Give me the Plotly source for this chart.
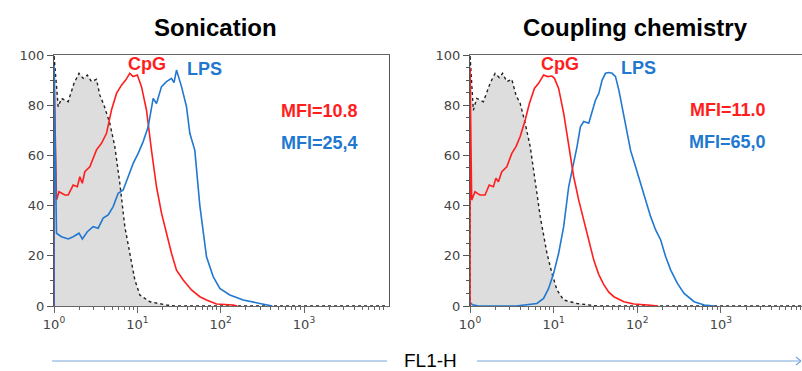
import plotly.graph_objects as go

# ---------------- data (x as log10 of FL1-H, y as % of max) ----------------
# Left panel: Sonication
son_ctrl_lg = [0, 0, 0.05, 0.09, 0.17, 0.24, 0.30, 0.35, 0.40, 0.45, 0.51, 0.55, 0.60, 0.67, 0.73,
               0.79, 0.85, 0.91, 0.97, 1.03, 1.15, 1.35, 1.45, 4.0]
son_ctrl_val = [0, 100, 79.4, 82.7, 81.4, 88.7, 92.7, 90.7, 92, 89.4, 90.3, 84, 80, 72.8, 63.5,
                48.9, 31.6, 21, 10.4, 4.4, 1.7, 0.4, 0, 0]

son_cpg_lg = [0, 0, 0.03, 0.06, 0.13, 0.17, 0.23, 0.28, 0.31, 0.34, 0.37, 0.43, 0.51, 0.57, 0.63,
              0.69, 0.75, 0.81, 0.86, 0.91, 0.95, 1.0, 1.05, 1.11, 1.17, 1.23, 1.29, 1.35, 1.41,
              1.47, 1.55, 1.65, 1.75, 1.83, 1.95, 2.15, 2.2]
son_cpg_val = [0, 94, 42.2, 45.5, 44.2, 44.2, 48.2, 47.5, 51.5, 48.9, 53.5, 55.5, 62.2, 64.8, 68.8,
               78.1, 84.7, 88, 90, 92.7, 91.4, 92, 87.4, 78, 62, 47.5, 37, 29, 21,
               14.3, 10.4, 6.4, 3.7, 2.4, 0.8, 0.4, 0]

son_lps_lg = [0, 0, 0.03, 0.09, 0.17, 0.23, 0.30, 0.34, 0.40, 0.47, 0.53, 0.59, 0.65, 0.71, 0.77,
              0.83, 0.89, 0.95, 1.01, 1.07, 1.13, 1.19, 1.23, 1.29, 1.35, 1.41, 1.44, 1.47, 1.53,
              1.59, 1.63, 1.69, 1.75, 1.79, 1.83, 1.91, 1.99, 2.11, 2.27, 2.47, 2.59, 2.62]
son_lps_val = [0, 96, 29, 27.6, 26.7, 27.6, 29, 26.7, 29.6, 31.6, 31, 35, 36.3, 39.6, 44.9,
               46.2, 51.5, 56.8, 60.8, 65.5, 71.4, 82.7, 80.7, 87.4, 89.4, 90.7, 89, 94, 87.4,
               79.4, 68.8, 62, 40, 29, 19.6, 11.7, 7, 4.4, 2.4, 1, 0.4, 0]

# Right panel: Coupling chemistry
cc_ctrl_lg = [0, 0, 0.04, 0.08, 0.16, 0.24, 0.30, 0.35, 0.39, 0.44, 0.50, 0.55, 0.60, 0.66, 0.72,
              0.78, 0.84, 0.92, 0.98, 1.04, 1.12, 1.28, 1.52, 4.0]
cc_ctrl_val = [0, 100, 78, 82.7, 81.4, 88.7, 92.7, 91, 92.7, 89.4, 90.3, 84, 80.7, 72.8, 63.5,
               50.2, 35.6, 21, 13, 6.4, 2.4, 1, 0, 0]

cc_cpg_lg = [0, 0, 0.02, 0.06, 0.12, 0.18, 0.23, 0.28, 0.31, 0.34, 0.38, 0.44, 0.50, 0.55, 0.60,
             0.66, 0.71, 0.77, 0.82, 0.88, 0.93, 0.98, 1.01, 1.06, 1.12, 1.18, 1.24, 1.30, 1.36,
             1.42, 1.48, 1.54, 1.60, 1.66, 1.72, 1.84, 1.96, 2.16, 2.25]
cc_cpg_val = [0, 95, 42.2, 45.5, 44.2, 44.2, 48.2, 47.5, 50.9, 49.5, 53.5, 55.5, 60.8, 63.5, 67.5,
              74.1, 80.7, 86.7, 88.7, 92, 91.4, 91.6, 90.7, 86.7, 76.8, 63.5, 51.5, 42.2, 34.3,
              26.3, 18.3, 12.5, 8.5, 5.5, 3.7, 1.7, 0.8, 0.3, 0]

cc_lps_lg = [0, 0.03, 0.1, 0.55, 0.80, 0.88, 0.94, 1.0, 1.06, 1.12, 1.18, 1.24, 1.28, 1.32, 1.36,
             1.42, 1.46, 1.50, 1.54, 1.58, 1.62, 1.66, 1.70, 1.74, 1.78, 1.82, 1.87, 1.92, 1.98,
             2.04, 2.10, 2.16, 2.22, 2.28, 2.34, 2.40, 2.48, 2.56, 2.68, 2.80, 2.92]
cc_lps_val = [1.5, 0.5, 0, 0, 1, 3, 7, 13, 21, 31.6, 47.5, 56.8, 63.5, 71.4, 73.5,
              72.8, 77.4, 82, 84.7, 90, 92.7, 93, 92.7, 91.4, 86, 79.4, 70, 62, 55.5,
              48.9, 42.2, 35.6, 30.3, 26.3, 19.6, 14.3, 9, 5, 1.7, 0.4, 0]

y_ticks = [0, 20, 40, 60, 80, 100]
x_decades = [0, 1, 2, 3]
x_tick_text = ["10<sup>0</sup>", "10<sup>1</sup>", "10<sup>2</sup>", "10<sup>3</sup>"]
titles = ["Sonication", "Coupling chemistry"]
mfi_cpg = ["MFI=10.8", "MFI=11.0"]
mfi_lps = ["MFI=25,4", "MFI=65,0"]

# ---------------- styling ----------------
RED = "#ff1e1e"
BLUE = "#2178d0"
FONT = "Liberation Sans, Arial, sans-serif"
TICKFONT = "DejaVu Sans, Verdana, sans-serif"
W, H = 802, 371


def tolin(lg):
    return [10 ** v for v in lg]


fig = go.Figure()


def add_panel(ctrl_lg, ctrl_val, cpg_lg, cpg_val, lps_lg, lps_val, xa, ya, red_on_top):
    fig.add_trace(go.Scatter(x=tolin(ctrl_lg), y=ctrl_val, mode="lines", fill="tozeroy",
                             fillcolor="#dddddd",
                             line=dict(color="#222222", width=1.4, dash="dot"),
                             xaxis=xa, yaxis=ya, showlegend=False, hoverinfo="skip"))
    red = go.Scatter(x=tolin(cpg_lg), y=cpg_val, mode="lines", line=dict(color=RED, width=1.6),
                     xaxis=xa, yaxis=ya, showlegend=False)
    blue = go.Scatter(x=tolin(lps_lg), y=lps_val, mode="lines", line=dict(color=BLUE, width=1.6),
                      xaxis=xa, yaxis=ya, showlegend=False)
    if red_on_top:
        fig.add_trace(blue)
        fig.add_trace(red)
    else:
        fig.add_trace(red)
        fig.add_trace(blue)


add_panel(son_ctrl_lg, son_ctrl_val, son_cpg_lg, son_cpg_val, son_lps_lg, son_lps_val, "x", "y", False)
add_panel(cc_ctrl_lg, cc_ctrl_val, cc_cpg_lg, cc_cpg_val, cc_lps_lg, cc_lps_val, "x2", "y2", True)

minor_vals = [m * 10 ** d for d in range(0, 4) for m in range(2, 10)]

xcommon = dict(type="log", showline=True, mirror=True, linecolor="#666666", linewidth=1.2,
               ticks="outside", ticklen=6, tickcolor="#666666", tickwidth=1,
               tickvals=[10 ** d for d in x_decades], ticktext=x_tick_text,
               tickfont=dict(family=TICKFONT, size=13, color="#444444"),
               minor=dict(tickvals=minor_vals, ticks="outside", ticklen=3, tickcolor="#666666"),
               showgrid=False, zeroline=False, fixedrange=True, automargin=False)
ycommon = dict(range=[0, 100], showline=True, mirror=True, linecolor="#555555", linewidth=1.2,
               ticks="outside", ticklen=6, tickcolor="#555555", tickvals=y_ticks,
               tickfont=dict(family=TICKFONT, size=13, color="#444444"),
               minor=dict(dtick=5, ticks="outside", ticklen=3, tickcolor="#555555"),
               showgrid=False, zeroline=False, fixedrange=True, automargin=False)

fig.update_layout(
    width=W, height=H,
    margin=dict(l=0, r=0, t=0, b=0, autoexpand=False),
    paper_bgcolor="white", plot_bgcolor="white",
    xaxis=dict(xcommon, domain=[54 / W, 389 / W], range=[0, 4.02], anchor="y"),
    yaxis=dict(ycommon, domain=[(H - 306) / H, (H - 55) / H], anchor="x"),
    xaxis2=dict(xcommon, domain=[470 / W, 1.0], range=[0, 3.97], anchor="y2"),
    yaxis2=dict(ycommon, domain=[(H - 306) / H, (H - 55) / H], anchor="x2"),
)

ann = []
for i, (xc, t) in enumerate(zip([215, 635], titles)):
    ann.append(dict(text="<b>%s</b>" % t, x=xc / W, y=(H - 28) / H, xref="paper", yref="paper",
                    xanchor="center", yanchor="middle", showarrow=False,
                    font=dict(family=FONT, size=24, color="black")))


def lab(text, x, y, xr, yr, color, size=18):
    return dict(text="<b>%s</b>" % text, x=x, y=y, xref=xr, yref=yr, showarrow=False,
                xanchor="center", yanchor="middle", font=dict(family=FONT, size=size, color=color))


# series labels and MFI values
ann += [
    lab("CpG", 1.11, 96.4, "x", "y", RED),
    lab("LPS", 1.80, 94.6, "x", "y", BLUE),
    lab(mfi_cpg[0], 3.19, 77.7, "x", "y", RED),
    lab(mfi_lps[0], 3.19, 65.0, "x", "y", BLUE),
    lab("CpG", 1.08, 96.4, "x2", "y2", RED),
    lab("LPS", 2.01, 95.0, "x2", "y2", BLUE),
    lab(mfi_cpg[1], 3.08, 78.0, "x2", "y2", RED),
    lab(mfi_lps[1], 3.08, 65.3, "x2", "y2", BLUE),
    dict(text="FL1-H", x=430 / W, y=(H - 360) / H, xref="paper", yref="paper", showarrow=False,
         xanchor="center", yanchor="middle", font=dict(family=FONT, size=19, color="black")),
]

ARROW = "#7aa8dc"
yb = (H - 361) / H
shapes = [
    dict(type="line", xref="paper", yref="paper", x0=52 / W, x1=387 / W, y0=yb, y1=yb,
         line=dict(color=ARROW, width=1.2)),
    dict(type="line", xref="paper", yref="paper", x0=477 / W, x1=801 / W, y0=yb, y1=yb,
         line=dict(color=ARROW, width=1.2)),
    dict(type="line", xref="paper", yref="paper", x0=796 / W, x1=801 / W, y0=yb + 4 / H, y1=yb,
         line=dict(color=ARROW, width=1.2)),
    dict(type="line", xref="paper", yref="paper", x0=796 / W, x1=801 / W, y0=yb - 4 / H, y1=yb,
         line=dict(color=ARROW, width=1.2)),
]

fig.update_layout(annotations=ann, shapes=shapes)
fig.write_html("out.html")
